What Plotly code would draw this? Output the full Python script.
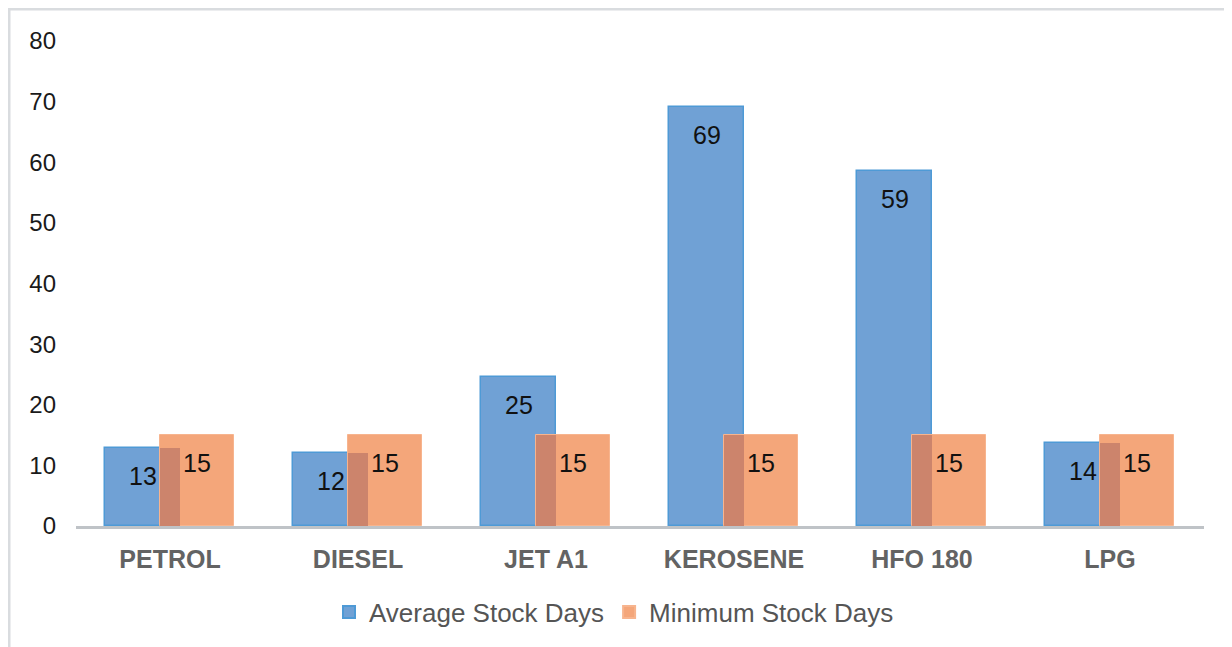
import plotly.graph_objects as go

categories = ["PETROL", "DIESEL", "JET A1", "KEROSENE", "HFO 180", "LPG"]
average_stock_days = [12.9, 12.1, 24.6, 69.1, 58.6, 13.7]
average_labels = ["13", "12", "25", "69", "59", "14"]
minimum_stock_days = [15, 15, 15, 15, 15, 15]
minimum_labels = ["15", "15", "15", "15", "15", "15"]
y_ticks = [0, 10, 20, 30, 40, 50, 60, 70, 80]

BLUE = "#70A1D5"
BLUE_EDGE = "#4E9AD6"
ORANGE = "#F4A67A"
OVERLAP = "#CC846C"
FONT = "Liberation Sans, Arial, sans-serif"

off_blue = -0.145
off_orange = 0.143
w_blue = 0.40
w_orange = 0.39

idx = list(range(len(categories)))
xb = [i + off_blue for i in idx]
xo = [i + off_orange for i in idx]
# overlap band between the two bars
ov_left = off_orange - w_orange / 2
ov_right = off_blue + w_blue / 2
ov_center = (ov_left + ov_right) / 2
ov_width = ov_right - ov_left
xov = [i + ov_center for i in idx]
yov = [min(a, m) for a, m in zip(average_stock_days, minimum_stock_days)]

fig = go.Figure()
fig.add_trace(go.Bar(
    x=xb, y=average_stock_days, width=w_blue, name="Average Stock Days",
    marker=dict(color=BLUE, line=dict(color=BLUE_EDGE, width=1.5)),
))
fig.add_trace(go.Bar(
    x=xo, y=minimum_stock_days, width=w_orange, name="Minimum Stock Days",
    marker=dict(color=ORANGE, line=dict(color="#F7B48E", width=1)),
))
fig.add_trace(go.Bar(
    x=xov, y=yov, width=ov_width, showlegend=False, hoverinfo="skip",
    marker=dict(color=OVERLAP, line=dict(width=0)),
))

annotations = []
for x, v, t in zip(xb, average_stock_days, average_labels):
    annotations.append(dict(x=x, y=v, text=t, showarrow=False, yshift=-28,
                            font=dict(family=FONT, size=25, color="#111111")))
for x, v, t in zip(xo, minimum_stock_days, minimum_labels):
    annotations.append(dict(x=x, y=v, text=t, showarrow=False, yshift=-28,
                            font=dict(family=FONT, size=25, color="#111111")))

# page offset (body margin) compensation
OFF = 8
W, H = 1232, 647
L, R, T, B = 76 - OFF, 1204 - OFF, 41 - OFF, 526 - OFF

def px(p):
    return (p - OFF - L) / (R - L)

def py(p):
    return (B - (p - OFF)) / (B - T)

shapes = [
    dict(type="line", xref="paper", yref="paper", x0=px(9), x1=px(9), y0=py(9), y1=py(670),
         line=dict(color="#D9DCDF", width=3)),
    dict(type="line", xref="paper", yref="paper", x0=px(8), x1=px(1260), y0=py(9), y1=py(9),
         line=dict(color="#D9DCDF", width=3)),
]

fig.update_layout(
    width=W, height=H,
    margin=dict(l=L, r=W - R, t=T, b=H - B),
    paper_bgcolor="white", plot_bgcolor="white",
    barmode="overlay", bargap=0,
    font=dict(family=FONT, size=24, color="#222222"),
    showlegend=True,
    legend=dict(orientation="h", x=px(614), xanchor="center", y=py(612), yanchor="middle",
                font=dict(family=FONT, size=26, color="#555555"),
                itemsizing="constant", itemwidth=30, traceorder="normal"),
    annotations=annotations,
    shapes=shapes,
)
fig.update_xaxes(
    range=[-0.5, len(categories) - 0.5],
    tickmode="array", tickvals=idx, ticktext=categories,
    tickfont=dict(family=FONT, size=25, color="#636363", weight="bold"),
    showline=True, linecolor="#BFC3C7", linewidth=2.5,
    showgrid=False, zeroline=False, ticks="", ticklabelstandoff=9,
)
fig.update_yaxes(
    range=[0, 80], tickmode="array", tickvals=y_ticks,
    tickfont=dict(family=FONT, size=24, color="#1a1a1a"),
    showline=False, showgrid=False, zeroline=False, ticks="",
    ticklabelstandoff=19,
)

fig.write_html("out.html")
